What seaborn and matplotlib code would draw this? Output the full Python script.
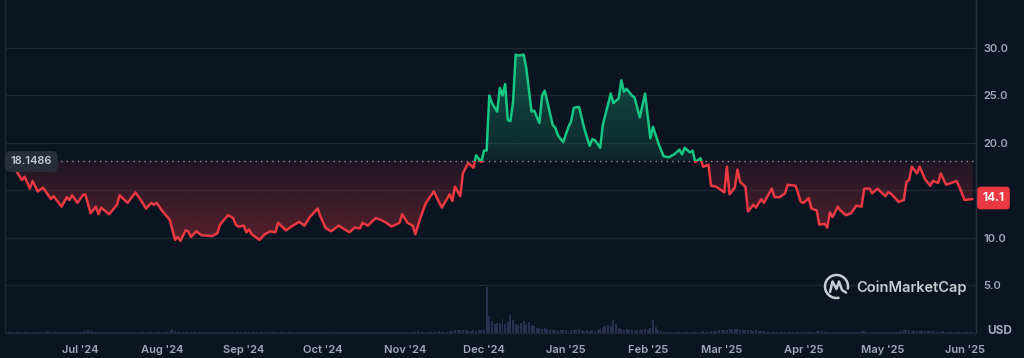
import numpy as np
import pandas as pd
import matplotlib
matplotlib.use('Agg')
import matplotlib.pyplot as plt
import matplotlib.dates as mdates
from matplotlib.patches import Rectangle, PathPatch, Arc
from matplotlib.path import Path
import seaborn as sns

# price (USD)
price_dates = [
    '2024-06-04', '2024-06-07', '2024-06-09', '2024-06-10', '2024-06-12', '2024-06-13', '2024-06-15',
    '2024-06-17', '2024-06-20', '2024-06-21', '2024-06-24', '2024-06-26', '2024-06-27', '2024-06-28',
    '2024-06-30', '2024-07-02', '2024-07-03', '2024-07-05', '2024-07-07', '2024-07-08', '2024-07-09',
    '2024-07-12', '2024-07-15', '2024-07-16', '2024-07-19', '2024-07-22', '2024-07-24', '2024-07-26',
    '2024-07-28', '2024-07-29', '2024-07-30', '2024-08-01', '2024-08-04', '2024-08-06', '2024-08-07',
    '2024-08-08', '2024-08-10', '2024-08-11', '2024-08-12', '2024-08-14', '2024-08-16', '2024-08-20',
    '2024-08-22', '2024-08-23', '2024-08-26', '2024-08-28', '2024-08-29', '2024-08-30', '2024-09-01',
    '2024-09-02', '2024-09-03', '2024-09-04', '2024-09-07', '2024-09-09', '2024-09-11', '2024-09-13',
    '2024-09-14', '2024-09-17', '2024-09-19', '2024-09-22', '2024-09-24', '2024-09-26', '2024-09-29',
    '2024-09-30', '2024-10-02', '2024-10-04', '2024-10-07', '2024-10-11', '2024-10-13', '2024-10-15',
    '2024-10-16', '2024-10-18', '2024-10-21', '2024-10-23', '2024-10-25', '2024-10-27', '2024-10-30',
    '2024-10-31', '2024-11-02', '2024-11-04', '2024-11-05', '2024-11-07', '2024-11-09', '2024-11-12',
    '2024-11-15', '2024-11-18', '2024-11-19', '2024-11-20', '2024-11-22', '2024-11-23', '2024-11-25',
    '2024-11-27', '2024-11-28', '2024-11-30', '2024-12-01', '2024-12-02', '2024-12-03', '2024-12-04',
    '2024-12-06', '2024-12-07', '2024-12-08', '2024-12-09', '2024-12-10', '2024-12-11', '2024-12-12',
    '2024-12-13', '2024-12-14', '2024-12-16', '2024-12-17', '2024-12-19', '2024-12-20', '2024-12-22',
    '2024-12-23', '2024-12-24', '2024-12-27', '2024-12-28', '2024-12-29', '2024-12-31', '2025-01-02',
    '2025-01-03', '2025-01-04', '2025-01-06', '2025-01-08', '2025-01-10', '2025-01-11', '2025-01-12',
    '2025-01-14', '2025-01-15', '2025-01-16', '2025-01-18', '2025-01-19', '2025-01-21', '2025-01-22',
    '2025-01-23', '2025-01-24', '2025-01-26', '2025-01-27', '2025-01-29', '2025-01-31', '2025-02-02',
    '2025-02-03', '2025-02-05', '2025-02-07', '2025-02-09', '2025-02-11', '2025-02-13', '2025-02-14',
    '2025-02-15', '2025-02-17', '2025-02-18', '2025-02-19', '2025-02-21', '2025-02-22', '2025-02-24',
    '2025-02-25', '2025-02-27', '2025-03-02', '2025-03-03', '2025-03-04', '2025-03-06', '2025-03-07',
    '2025-03-08', '2025-03-10', '2025-03-11', '2025-03-13', '2025-03-14', '2025-03-16', '2025-03-17',
    '2025-03-18', '2025-03-20', '2025-03-21', '2025-03-23', '2025-03-25', '2025-03-26', '2025-03-29',
    '2025-03-31', '2025-04-01', '2025-04-03', '2025-04-04', '2025-04-06', '2025-04-07', '2025-04-09',
    '2025-04-10', '2025-04-11', '2025-04-12', '2025-04-14', '2025-04-15', '2025-04-17', '2025-04-19',
    '2025-04-21', '2025-04-23', '2025-04-24', '2025-04-26', '2025-04-27', '2025-04-29', '2025-05-02',
    '2025-05-03', '2025-05-04', '2025-05-07', '2025-05-09', '2025-05-10', '2025-05-11', '2025-05-12',
    '2025-05-14', '2025-05-15', '2025-05-17', '2025-05-19', '2025-05-20', '2025-05-22', '2025-05-23',
    '2025-05-25', '2025-05-27', '2025-05-29', '2025-05-30', '2025-06-01', '2025-06-04',
]
price_values = [
    18.1486, 17.0, 16.1, 16.45, 15.2, 16.0, 14.9,
    15.3, 14.1, 14.4, 13.3, 14.3, 14.0, 14.5,
    13.7, 14.5, 14.6, 12.6, 13.3, 12.5, 13.2,
    12.5, 13.5, 14.5, 13.7, 14.8, 14.0, 13.1,
    13.7, 13.5, 13.7, 12.9, 11.9, 9.8, 10.1,
    9.7, 10.8, 10.7, 10.1, 10.7, 10.3, 10.2,
    10.5, 11.4, 12.4, 12.1, 11.4, 11.2, 11.3,
    10.6, 10.9, 10.4, 9.8, 10.4, 10.7, 10.6,
    11.6, 10.8, 11.2, 11.7, 11.3, 12.2, 13.1,
    12.3, 11.05, 10.7, 11.3, 10.6, 11.1, 11.0,
    11.6, 11.3, 12.1, 11.9, 11.6, 11.2, 11.6,
    12.5, 11.6, 11.3, 10.4, 12.2, 13.7, 14.9,
    13.2, 14.6, 13.9, 15.4, 14.4, 16.8, 17.9,
    17.4, 18.7, 18.0, 19.2, 19.2, 25.0, 24.2,
    23.3, 25.8, 25.0, 26.2, 22.4, 22.3, 24.3,
    29.3, 29.2, 29.3, 27.9, 23.3, 23.4, 22.1,
    25.0, 25.5, 21.9, 21.6, 20.8, 20.1, 21.7,
    22.3, 23.7, 23.8, 21.5, 19.7, 20.4, 20.3,
    19.5, 21.9, 23.0, 25.2, 24.2, 24.7, 26.6,
    25.4, 25.7, 25.0, 24.8, 22.7, 25.2, 20.5,
    21.7, 20.0, 18.6, 18.5, 18.8, 19.3, 18.8,
    19.5, 19.0, 19.2, 18.0, 18.4, 17.5, 17.7,
    15.5, 15.4, 14.8, 17.5, 14.6, 15.3, 17.2,
    15.9, 15.4, 12.8, 13.5, 13.2, 14.1, 13.7,
    14.2, 15.2, 14.3, 14.3, 14.7, 15.6, 15.5,
    13.8, 13.7, 14.2, 13.1, 12.9, 11.4, 11.5,
    11.1, 12.7, 12.2, 13.3, 12.9, 12.4, 12.6,
    13.4, 13.3, 15.2, 15.2, 14.7, 15.2, 14.4,
    14.8, 14.7, 13.8, 14.0, 15.9, 16.1, 17.5,
    16.8, 17.5, 16.2, 15.5, 16.0, 15.8, 16.8,
    15.6, 15.8, 16.0, 15.4, 14.0, 14.1,
]

# daily volume (million USD), one list per month, from 2024-06-04
vol_jun24 = [1.2, 1.0, 1.1, 1.4, 1.0, 0.9, 1.0, 1.1, 0.8, 0.9, 1.0, 1.2, 0.9, 0.8, 1.0, 1.6, 1.1, 0.9,
             0.8, 1.0, 0.9, 1.1, 1.0, 0.8, 0.9, 1.0, 1.2]
vol_jul24 = [1.0, 1.3, 2.4, 2.8, 2.0, 1.2, 1.0, 0.9, 1.1, 0.9, 0.8, 1.0, 0.9, 1.2, 1.0, 0.8, 0.9, 1.1,
             0.9, 1.0, 0.8, 0.9, 1.0, 0.9, 0.8, 1.0, 0.9, 0.8, 1.0, 1.1, 0.9]
vol_aug24 = [1.0, 1.1, 1.3, 1.8, 4.2, 2.0, 1.4, 1.1, 0.9, 0.8, 0.9, 0.8, 1.0, 0.8, 0.7, 0.8, 0.7, 0.9,
             0.8, 0.7, 0.8, 0.9, 1.0, 0.9, 0.8, 0.7, 0.8, 0.7, 0.8, 0.9, 0.8]
vol_sep24 = [0.7, 0.8, 0.9, 0.8, 0.7, 0.8, 1.1, 0.9, 0.8, 0.7, 0.8, 0.9, 0.8, 0.7, 0.9, 1.0, 0.8, 0.7,
             0.8, 0.9, 0.8, 0.7, 0.8, 0.9, 0.8, 0.9, 1.0, 0.8, 0.9, 0.8]
vol_oct24 = [1.0, 1.2, 1.0, 0.9, 0.8, 0.9, 1.3, 1.0, 0.9, 0.8, 0.9, 1.4, 1.0, 0.9, 0.8, 1.2, 1.0, 0.9,
             0.8, 0.9, 1.0, 1.3, 0.9, 0.8, 0.9, 1.0, 0.9, 0.8, 1.1, 1.0, 1.2]
vol_nov24 = [1.3, 1.0, 1.2, 1.1, 1.4, 1.6, 1.3, 1.2, 1.1, 1.5, 1.2, 1.4, 1.3, 1.6, 1.4, 1.5, 1.3, 1.8,
             2.0, 2.6, 3.0, 3.2, 2.8, 2.7, 2.4, 2.2, 2.6, 2.2, 2.9, 3.4]
vol_dec24 = [3.0, 46.0, 17.0, 12.0, 9.0, 10.0, 10.0, 14.0, 9.0, 11.0, 18.0, 13.0, 9.0, 8.0, 10.0, 12.0,
             9.0, 11.0, 8.0, 7.0, 5.0, 5.0, 4.0, 5.0, 4.0, 3.0, 3.0, 3.5, 2.5, 3.0, 3.0]
vol_jan25 = [3.0, 2.5, 3.0, 3.5, 3.0, 4.0, 3.0, 2.5, 3.0, 2.5, 3.0, 2.5, 3.0, 4.0, 6.0, 7.0, 8.0, 7.0,
             13.0, 9.0, 5.0, 4.0, 3.5, 4.0, 3.0, 3.0, 2.5, 3.0, 3.0, 3.5, 4.0]
vol_feb25 = [3.0, 5.0, 13.0, 6.0, 3.0, 2.0, 1.5, 1.5, 1.2, 1.0, 1.2, 1.0, 1.1, 1.0, 1.2, 1.4, 1.0, 1.1,
             1.3, 1.0, 1.2, 1.6, 1.2, 1.4, 2.0, 2.4, 2.2, 2.6]
vol_mar25 = [3.0, 3.5, 3.0, 4.0, 3.5, 3.6, 3.8, 3.0, 2.8, 3.2, 3.4, 2.8, 2.4, 2.6, 2.0, 1.8, 1.6, 1.5,
             1.4, 1.2, 1.3, 1.2, 1.1, 1.0, 1.1, 1.0, 1.2, 1.1, 1.0, 1.2, 1.0]
vol_apr25 = [1.0, 1.1, 1.0, 1.2, 1.3, 1.8, 2.4, 1.6, 1.4, 1.2, 1.1, 1.0, 1.1, 1.0, 0.9, 1.0, 1.1, 1.0,
             0.9, 1.0, 1.2, 1.4, 1.6, 1.8, 1.5, 1.3, 1.2, 1.1, 1.0, 1.1]
vol_may25 = [1.0, 1.1, 1.0, 0.9, 1.0, 1.2, 1.4, 2.0, 2.6, 2.8, 2.6, 2.4, 2.2, 2.0, 2.2, 1.8, 1.6, 1.8,
             2.0, 1.6, 1.4, 1.5, 1.3, 1.6, 1.4, 1.2, 1.3, 1.2, 1.1, 1.0, 1.2]
vol_jun25 = [1.4, 1.0, 1.1, 0.9]

grid_levels = [5, 10, 15, 20, 25, 30]
y_ticks = [5, 10, 20, 25, 30]   # 15.0 sits under the current-price tag

bg = '#0d1421'
green = '#16c784'
red = '#ea3943'
grid_c = '#1f2634'
label_c = '#a1a7bb'

sns.set_style('dark', {'axes.facecolor': bg, 'figure.facecolor': bg})
plt.rcParams['font.family'] = ['Inter', 'DejaVu Sans']

df = pd.DataFrame({'date': pd.to_datetime(price_dates), 'price': price_values})
base = price_values[0]
volume = (vol_jun24 + vol_jul24 + vol_aug24 + vol_sep24 + vol_oct24 + vol_nov24 + vol_dec24
          + vol_jan25 + vol_feb25 + vol_mar25 + vol_apr25 + vol_may25 + vol_jun25)
vol_df = pd.DataFrame({'date': pd.date_range('2024-06-04', periods=len(volume), freq='D'),
                       'vol': volume})

x_lo = pd.Timestamp('2024-06-02 14:00')
x_hi = pd.Timestamp('2025-06-05 08:00')

fig = plt.figure(figsize=(10.24, 3.58), dpi=100)
rect = [5 / 1024, 25 / 358, 971 / 1024, 333 / 358]

# volume bars underneath
vax = fig.add_axes(rect)
vax.bar(vol_df['date'], vol_df['vol'], width=0.75, color='#28324f', linewidth=0)
vax.set_ylim(0, 333)
vax.set_xlim(x_lo, x_hi)
vax.set_xticks([])
vax.set_yticks([])
for s in vax.spines.values():
    s.set_visible(False)

ax = fig.add_axes(rect)
ax.patch.set_alpha(0)

for v in grid_levels:
    ax.axhline(v, color=grid_c, lw=1, zorder=0)

sns.lineplot(data=df, x='date', y='price', ax=ax, color=green, lw=1.8, zorder=4)
sns.lineplot(data=df, x='date', y='price', ax=ax, color=red, lw=1.8, zorder=4)
xn = mdates.date2num(df['date'])
yv = df['price'].values
x0n, x1n = mdates.date2num(x_lo), mdates.date2num(x_hi)
ax.lines[-2].set_clip_path(Rectangle((x0n, base), x1n - x0n, 50, transform=ax.transData))
ax.lines[-1].set_clip_path(Rectangle((x0n, -10), x1n - x0n, base + 10, transform=ax.transData))


def gradient_fill(where, y0, y1, rgb, a0, a1):
    poly = ax.fill_between(xn, base, yv, where=where, interpolate=True,
                           facecolor='none', edgecolor='none')
    path = Path.make_compound_path(*poly.get_paths())
    patch = PathPatch(path, transform=ax.transData, facecolor='none', edgecolor='none')
    ax.add_patch(patch)
    img = np.zeros((256, 1, 4))
    img[..., :3] = matplotlib.colors.to_rgb(rgb)
    img[:, 0, 3] = np.linspace(a0, a1, 256)
    im = ax.imshow(img, extent=[xn[0], xn[-1], y0, y1], origin='lower', aspect='auto', zorder=2)
    im.set_clip_path(patch)


gradient_fill(yv >= base, base, max(yv), green, 0.1, 0.36)
gradient_fill(yv <= base, min(yv), base, red, 0.33, 0.09)

ax.axhline(base, color='#8c92a0', lw=1, ls=(0, (1, 3)), zorder=3)

ax.set_xlim(x_lo, x_hi)
ax.set_ylim(0, 35.05)
ax.set_xlabel('')
ax.set_ylabel('')
ax.yaxis.tick_right()
ax.set_yticks(y_ticks)
ax.yaxis.set_major_formatter('{x:.1f}')
ax.xaxis.set_major_locator(mdates.MonthLocator())
ax.xaxis.set_major_formatter(mdates.DateFormatter("%b '%y"))
ax.tick_params(axis='y', length=0, pad=5, labelcolor=label_c, labelsize=8)
ax.tick_params(axis='x', length=0, pad=8.5, labelcolor=label_c, labelsize=8)
for lab in ax.get_xticklabels() + ax.get_yticklabels():
    lab.set_fontweight('semibold')
ax.grid(False)
ax.spines['top'].set_visible(False)
ax.spines['right'].set_color('#2a3142')
ax.spines['left'].set_color('#1c2331')
ax.spines['bottom'].set_color('#1f2634')
for s in ['right', 'left', 'bottom']:
    ax.spines[s].set_linewidth(1)

# overlay in pixel coordinates for labels and watermark
ov = fig.add_axes([0, 0, 1, 1], zorder=10)
ov.set_xlim(0, 1024)
ov.set_ylim(358, 0)
ov.axis('off')

ov.text(31.5, 161.5, '18.1486', ha='center', va='center', fontsize=8, fontweight='semibold',
        color='#c3c7d0',
        bbox=dict(boxstyle='round,pad=0.5,rounding_size=0.5', fc='#272d39', ec='none'))
ov.text(993.5, 198, '14.1', ha='center', va='center', fontsize=8.5, fontweight='bold',
        color='white',
        bbox=dict(boxstyle='round,pad=0.45,rounding_size=0.3', fc=red, ec='none'))
ov.text(1012, 331.5, 'USD', ha='right', va='center', fontsize=8.5, fontweight='bold', color=label_c)

# CoinMarketCap watermark
wm = '#c9ccd3'
ov.add_patch(Arc((836.5, 286.5), 23, 23, theta1=75, theta2=375, color=wm, lw=1.8))
ov.plot([830, 832.5, 836.5, 839, 842, 846], [292, 281.5, 289, 281.5, 290, 292.5],
        color=wm, lw=1.8, solid_capstyle='round', solid_joinstyle='round')
ov.text(856, 288, 'CoinMarketCap', ha='left', va='center', fontsize=10.5,
        fontweight='semibold', color=wm)

fig.savefig('out.png', dpi=100, facecolor=bg)
